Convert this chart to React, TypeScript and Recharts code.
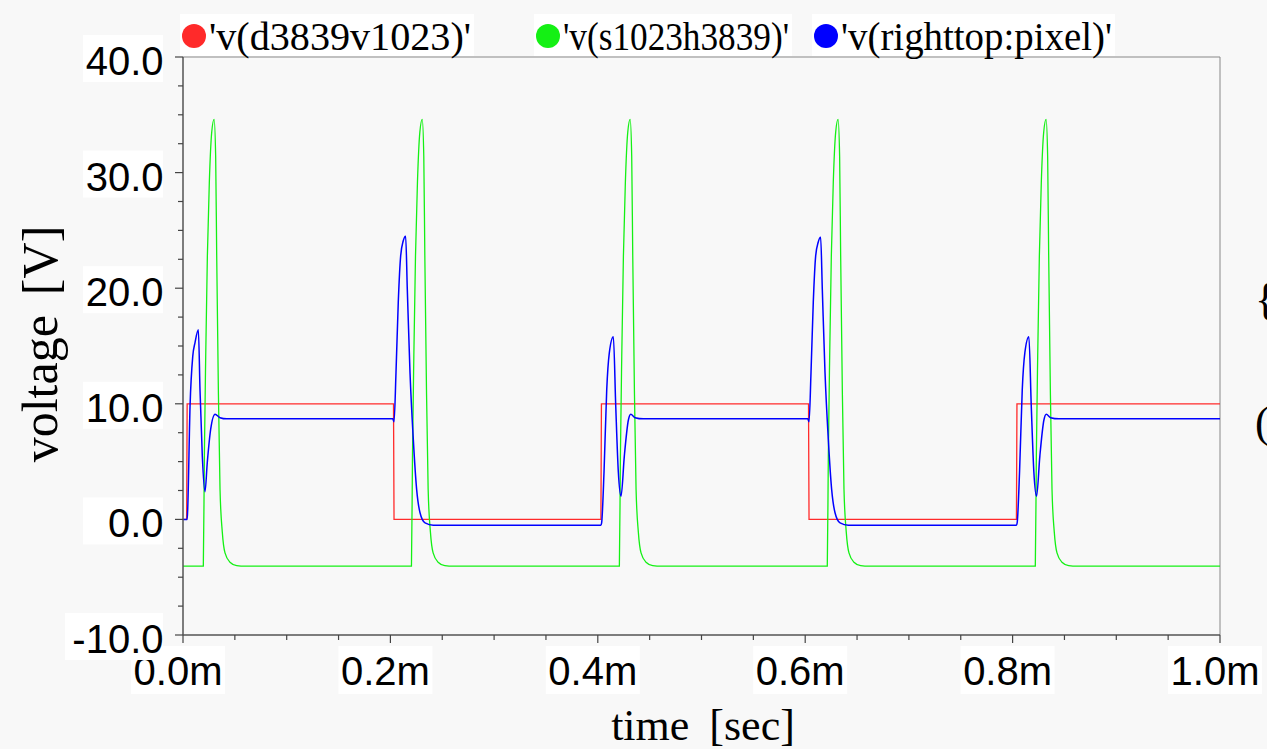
import { LineChart, Line, XAxis, YAxis, ReferenceLine } from "recharts";

// time in ms, value in volts
const redPoints: [number, number][] = [
  [0, 0], [0.0035, 0], [0.004, 10], [0.203, 10], [0.2035, 0], [0.403, 0],
  [0.4035, 10], [0.6032, 10], [0.6037, 0], [0.8037, 0], [0.8042, 10], [1.0, 10],
];

const greenPoints: [number, number][] = [
  [0, -4.05], [0.0196, -4.05], [0.0206, 5.5], [0.0219, 14.1], [0.0235, 22.8], [0.0254, 29.2],
  [0.0277, 33.5], [0.03, 34.6], [0.0315, 31.4], [0.0325, 22.8], [0.0341, 11.2], [0.0357, 2.6],
  [0.0379, -1.1], [0.0405, -2.9], [0.0453, -3.7], [0.0518, -4.0], [0.06, -4.05],
  [0.2203, -4.05], [0.2213, 5.5], [0.2226, 14.1], [0.2242, 22.8], [0.2261, 29.2], [0.2284, 33.5],
  [0.2307, 34.6], [0.2322, 31.4], [0.2332, 22.8], [0.2348, 11.2], [0.2364, 2.6], [0.2386, -1.1],
  [0.2412, -2.9], [0.246, -3.7], [0.2525, -4.0], [0.2607, -4.05],
  [0.4208, -4.05], [0.4218, 5.5], [0.4231, 14.1], [0.4247, 22.8], [0.4266, 29.2], [0.4289, 33.5],
  [0.4312, 34.6], [0.4327, 31.4], [0.4337, 22.8], [0.4353, 11.2], [0.4369, 2.6], [0.4391, -1.1],
  [0.4417, -2.9], [0.4465, -3.7], [0.453, -4.0], [0.4612, -4.05],
  [0.6213, -4.05], [0.6223, 5.5], [0.6236, 14.1], [0.6252, 22.8], [0.6271, 29.2], [0.6294, 33.5],
  [0.6317, 34.6], [0.6332, 31.4], [0.6342, 22.8], [0.6358, 11.2], [0.6374, 2.6], [0.6396, -1.1],
  [0.6422, -2.9], [0.647, -3.7], [0.6535, -4.0], [0.6617, -4.05],
  [0.8219, -4.05], [0.8229, 5.5], [0.8242, 14.1], [0.8258, 22.8], [0.8277, 29.2], [0.83, 33.5],
  [0.8323, 34.6], [0.8338, 31.4], [0.8348, 22.8], [0.8364, 11.2], [0.838, 2.6], [0.8402, -1.1],
  [0.8428, -2.9], [0.8476, -3.7], [0.8541, -4.0], [0.8623, -4.05], [1.0, -4.05],
];

const bluePoints: [number, number][] = [
  [0, 0], [0.004, 0], [0.0045, 0.8], [0.0068, 9.8], [0.0094, 14.1], [0.0116, 15.3], [0.0148, 16.4],
  [0.0164, 11.2], [0.0186, 5.5], [0.0212, 2.4], [0.0234, 4.9], [0.0267, 7.8], [0.0309, 9.1],
  [0.0357, 8.8], [0.0421, 8.7],
  [0.2022, 8.7], [0.2035, 8.45], [0.2054, 12.7], [0.2076, 18.8], [0.2099, 22.8], [0.2124, 24.1],
  [0.2147, 24.5], [0.2163, 19.9], [0.2189, 12.7], [0.2221, 6.9], [0.2253, 2.6], [0.2285, 0.6],
  [0.2334, -0.3], [0.2414, -0.5],
  [0.403, -0.5], [0.4037, -0.3], [0.406, 4.1], [0.4086, 11.2], [0.4111, 14.4], [0.415, 15.8],
  [0.4173, 9.8], [0.4198, 4.1], [0.4224, 2.0], [0.4256, 5.5], [0.4295, 8.6], [0.4318, 9.1],
  [0.4359, 8.8], [0.4439, 8.7],
  [0.6024, 8.7], [0.6037, 8.45], [0.6056, 12.7], [0.6078, 18.8], [0.6101, 22.8], [0.6126, 24.0],
  [0.6149, 24.4], [0.6165, 19.9], [0.6191, 12.7], [0.6223, 6.9], [0.6255, 2.6], [0.6287, 0.6],
  [0.6336, -0.3], [0.6416, -0.5],
  [0.8037, -0.5], [0.8044, -0.3], [0.8067, 4.1], [0.8093, 11.2], [0.8118, 14.4], [0.8157, 15.8],
  [0.818, 9.8], [0.8205, 4.1], [0.8231, 2.0], [0.8263, 5.5], [0.8302, 8.6], [0.8325, 9.1],
  [0.8366, 8.8], [0.8446, 8.7], [1.0, 8.7],
];

const legendLabels = ["'v(d3839v1023)'", "'v(s1023h3839)'", "'v(righttop:pixel)'"];

const yTicks = [-10, -7.5, -5, -2.5, 0, 2.5, 5, 7.5, 10, 12.5, 15, 17.5, 20, 22.5, 25, 27.5, 30, 32.5, 35, 37.5, 40];
const xTicks = [0, 0.05, 0.1, 0.15, 0.2, 0.25, 0.3, 0.35, 0.4, 0.45, 0.5, 0.55, 0.6, 0.65, 0.7, 0.75, 0.8, 0.85, 0.9, 0.95, 1.0];

const RED = "#ff2a2a";
const GREEN = "#14f014";
const BLUE = "#0000ff";
const SANS = "'Liberation Sans', Arial, sans-serif";
const SERIF = "'Liberation Serif', 'Times New Roman', serif";

const toRows = (pts: [number, number][]) => pts.map(([t, v]) => ({ t, v }));

const isMajor = (v: number, step: number) => Math.abs(v / step - Math.round(v / step)) < 1e-6;

function YTick(props: any) {
  const { x, y, payload } = props;
  const v = payload.value as number;
  const major = isMajor(v, 10);
  return (
    <g>
      {major && (
        <>
          <rect x={x - (v < 0 ? 118 : 100)} y={y - 22} width={v < 0 ? 98 : 80} height={47} fill="#ffffff" />
          <text x={x - 19.5} y={y + 18} textAnchor="end" fontSize={40} fontFamily={SANS} fill="#000">
            {v.toFixed(1)}
          </text>
        </>
      )}
      <line x1={x - (major ? 8 : 5)} x2={x} y1={y} y2={y} stroke="#444" strokeWidth={1.2} />
    </g>
  );
}

function XTick(props: any) {
  const { x, y, payload } = props;
  const v = payload.value as number;
  const major = isMajor(v, 0.2);
  return (
    <g>
      {major && (
        <>
          <rect x={x - 52} y={y + 11} width={94} height={48} fill="#ffffff" />
          <text x={x - 5} y={y + 50} textAnchor="middle" fontSize={40} fontFamily={SANS} fill="#000">
            {`${v.toFixed(1)}m`}
          </text>
        </>
      )}
      <line x1={x} x2={x} y1={y} y2={y + (major ? 8 : 5)} stroke="#444" strokeWidth={1.2} />
    </g>
  );
}

export default function App() {
  const legendX = [194, 548, 826];
  const legendWidths = [262, 226, 271];
  const colors = [RED, GREEN, BLUE];
  return (
    <div style={{ position: "absolute", left: 0, top: 0, width: 1267, height: 749, background: "#f8f8f8", overflow: "hidden" }}>
      <LineChart width={1267} height={749} data={toRows(redPoints)} margin={{ top: 57, right: 47, bottom: 54, left: 0 }}>
        <XAxis
          dataKey="t"
          type="number"
          domain={[0, 1]}
          ticks={xTicks}
          interval={0}
          tick={<XTick />}
          tickLine={false}
          tickSize={0}
          tickMargin={0}
          height={60}
          axisLine={{ stroke: "#555", strokeWidth: 1.5 }}
          allowDataOverflow
        />
        <YAxis
          type="number"
          domain={[-10, 40]}
          ticks={yTicks}
          interval={0}
          tick={<YTick />}
          tickLine={false}
          tickSize={0}
          tickMargin={0}
          width={183}
          axisLine={{ stroke: "#555", strokeWidth: 1.5 }}
          allowDataOverflow
        />
        <ReferenceLine y={40} stroke="#888" strokeWidth={1} />
        <ReferenceLine x={1} stroke="#888" strokeWidth={1} />
        <Line data={toRows(redPoints)} dataKey="v" type="linear" stroke={RED} strokeWidth={1.3} dot={false} isAnimationActive={false} />
        <Line data={toRows(greenPoints)} dataKey="v" type="monotone" stroke={GREEN} strokeWidth={1.3} dot={false} isAnimationActive={false} />
        <Line data={toRows(bluePoints)} dataKey="v" type="monotone" stroke={BLUE} strokeWidth={1.5} dot={false} isAnimationActive={false} />
      </LineChart>
      <svg width={1267} height={749} style={{ position: "absolute", left: 0, top: 0, pointerEvents: "none" }}>
        {legendLabels.map((label, i) => (
          <g key={label}>
            <rect x={legendX[i] - 14} y={14} width={legendWidths[i] + 32} height={42} fill="#ffffff" />
            <circle cx={legendX[i]} cy={36} r={12} fill={colors[i]} />
            <text
              x={legendX[i] + 15}
              y={50}
              fontSize={40}
              fontFamily={SERIF}
              fill="#000"
              textLength={legendWidths[i]}
              lengthAdjust="spacingAndGlyphs"
            >
              {label}
            </text>
          </g>
        ))}
        <text transform="rotate(-90, 57, 344)" x={57} y={344} textAnchor="middle" fontSize={50} fontFamily={SERIF} fill="#000">
          <tspan>voltage</tspan>
          <tspan dx={20}>[V]</tspan>
        </text>
        <text x={703} y={740} textAnchor="middle" fontSize={44} fontFamily={SERIF} fill="#000">
          <tspan>time</tspan>
          <tspan dx={20}>[sec]</tspan>
        </text>
        <text x={1255} y={314} fontSize={44} fontFamily={SERIF} fill="#000">{"{"}</text>
        <text x={1255} y={437} fontSize={44} fontFamily={SERIF} fill="#000">(</text>
      </svg>
    </div>
  );
}
